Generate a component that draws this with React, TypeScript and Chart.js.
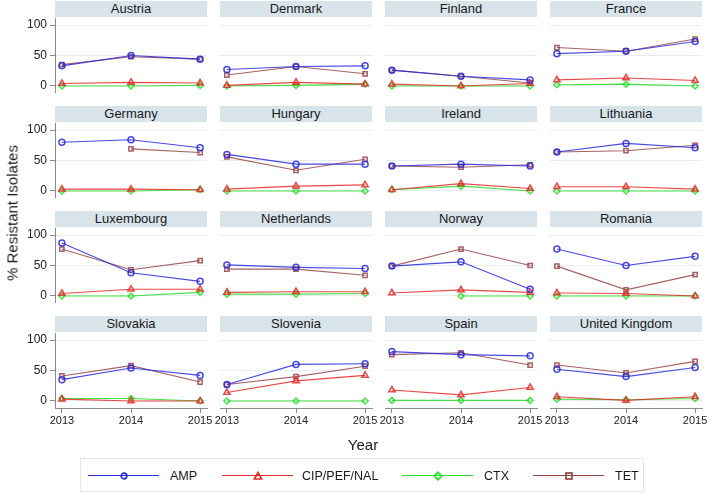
import React, { useEffect, useRef } from "react";
import { Chart, registerables } from "chart.js";
Chart.register(...registerables);

const years = [2013, 2014, 2015];
const countries = [
  "Austria", "Denmark", "Finland", "France",
  "Germany", "Hungary", "Ireland", "Lithuania",
  "Luxembourg", "Netherlands", "Norway", "Romania",
  "Slovakia", "Slovenia", "Spain", "United Kingdom",
];
const seriesNames = ["AMP", "CIP/PEF/NAL", "CTX", "TET"];
const AMP: (number | null)[][] = [
  [33, 50, 44], [27, 32, 33], [26, 16, 10], [53, 57, 73],
  [80, 84, 71], [60, 44, 44], [41, 44, 41], [64, 78, 71],
  [87, 38, 24], [51, 47, 45], [49, 56, 11], [77, 50, 65],
  [35, 54, 42], [27, 60, 61], [81, 76, 74], [52, 40, 55],
];
const CIP: (number | null)[][] = [
  [4, 6, 5], [1, 6, 3], [3, 0, 4], [10, 13, 9],
  [3, 3, 2], [3, 8, 10], [2, 12, 4], [7, 7, 3],
  [4, 11, 11], [6, 7, 7], [5, 10, 6], [5, 4, 0],
  [3, 0, 0], [14, 33, 42], [18, 10, 22], [7, 1, 7],
];
const CTX: (number | null)[][] = [
  [0, 0, 1], [0, 1, 3], [0, 0, 0], [2, 3, 0],
  [0, 0, 2], [0, 0, 0], [2, 8, 0], [0, 0, 0],
  [0, 0, 6], [3, 3, 4], [null, 0, 0], [0, 0, 0],
  [4, 4, 0], [0, 0, 0], [1, 1, 1], [3, 2, 4],
];
const TET: (number | null)[][] = [
  [35, 48, 44], [18, 32, 20], [26, 16, 5], [63, 57, 77],
  [null, 69, 63], [56, 34, 52], [41, 39, 43], [64, 66, 75],
  [77, 43, 58], [44, 44, 34], [49, 77, 50], [49, 10, 35],
  [41, 58, 31], [27, 40, 57], [76, 79, 59], [59, 46, 65],
];
const yTicks = [0, 50, 100];

const seriesData = [AMP, CIP, CTX, TET];
const colors = ["rgba(40,40,225,0.85)", "rgba(230,40,40,0.85)", "rgba(40,220,40,0.85)", "rgba(150,70,70,0.85)"];
const legendColors = ["#2a2ae0", "#e62a2a", "#2ade2a", "#964646"];
const pointStyles = ["circle", "triangle", "rectRot", "rect"];

const FONT = "'Liberation Sans', Arial, Helvetica, sans-serif";
const PLOT_L0 = 55;
const COL_PITCH = 165;
const PLOT_W = 152;
const ROW_PITCH = 105;
const HEADER_T0 = 1;
const HEADER_H = 16;
const PLOT_T0 = 18;
const PLOT_H = 75;
const PADX = 16;
const XAXIS_H = 26;

function panelGeom(i: number) {
  const r = Math.floor(i / 4);
  const c = i % 4;
  const plotL = PLOT_L0 + c * COL_PITCH;
  const plotT = PLOT_T0 + r * ROW_PITCH;
  const isLeft = c === 0;
  const isBottom = r === 3;
  const left = isLeft ? 0 : plotL - PADX;
  const width = (isLeft ? plotL : PADX) + PLOT_W + PADX;
  const height = PLOT_H + (isBottom ? XAXIS_H : 0);
  return { r, c, plotL, plotT, isLeft, isBottom, left, top: plotT, width, height };
}

function Marker({ style, color }: { style: string; color: string }) {
  let shape: React.ReactNode = null;
  if (style === "circle") shape = <circle cx={5} cy={5} r={2.8} fill="none" stroke={color} strokeWidth={1.7} />;
  if (style === "triangle") shape = <polygon points="5,1.6 8.6,8 1.4,8" fill="none" stroke={color} strokeWidth={1.7} />;
  if (style === "rectRot") shape = <polygon points="5,1.3 8.7,5 5,8.7 1.3,5" fill="none" stroke={color} strokeWidth={1.7} />;
  if (style === "rect") shape = <rect x={2} y={2} width={6} height={6} fill="none" stroke={color} strokeWidth={1.7} />;
  return (
    <svg width={10} height={10} style={{ position: "absolute", left: -5, top: -5 }}>
      {shape}
    </svg>
  );
}

export default function App() {
  const refs = useRef<(HTMLCanvasElement | null)[]>([]);

  useEffect(() => {
    const charts: Chart[] = [];
    countries.forEach((_, i) => {
      const canvas = refs.current[i];
      if (!canvas) return;
      const g = panelGeom(i);
      const datasets = seriesData.map((arr, k) => ({
        label: seriesNames[k],
        data: years.map((yr, j) => ({ x: yr, y: arr[i][j] })),
        borderColor: colors[k],
        backgroundColor: "transparent",
        borderWidth: 1.1,
        pointStyle: pointStyles[k] as any,
        pointRadius: k === 1 ? 3.6 : 3,
        pointBorderWidth: 1.5,
        pointBorderColor: colors[k],
        pointBackgroundColor: "rgba(255,255,255,0)",
        spanGaps: false,
        tension: 0,
        clip: false as any,
      }));
      const chart = new Chart(canvas, {
        type: "line",
        data: { datasets: datasets as any },
        options: {
          animation: false,
          responsive: false,
          maintainAspectRatio: false,
          devicePixelRatio: 1,
          layout: {
            autoPadding: false,
            padding: { left: g.isLeft ? 0 : PADX, right: PADX, top: 0, bottom: 0 },
          },
          plugins: { legend: { display: false }, tooltip: { enabled: false } },
          scales: {
            x: {
              type: "linear",
              min: 2012.9,
              max: 2015.1,
              display: g.isBottom,
              afterBuildTicks: (s: any) => {
                s.ticks = years.map((v) => ({ value: v }));
              },
              afterFit: (s: any) => {
                s.height = g.isBottom ? XAXIS_H : 0;
              },
              grid: { drawOnChartArea: false, drawTicks: true, tickLength: 5, color: "#8a8a8a", tickColor: "#8a8a8a" },
              border: { display: true, color: "#8a8a8a", width: 1 },
              ticks: {
                callback: (v: any) => String(v),
                font: { family: FONT, size: 11 },
                color: "#222",
                padding: 1,
                maxRotation: 0,
                autoSkip: false,
              },
            },
            y: {
              type: "linear",
              min: -11.5,
              max: 111.5,
              display: true,
              afterBuildTicks: (s: any) => {
                s.ticks = yTicks.map((v) => ({ value: v }));
              },
              afterFit: (s: any) => {
                s.width = g.isLeft ? PLOT_L0 : 0;
                s.paddingTop = 0;
                s.paddingBottom = 0;
              },
              grid: {
                color: "#e6edf1",
                lineWidth: 1,
                drawTicks: g.isLeft,
                tickLength: 5,
                tickColor: "#8a8a8a",
              },
              border: { display: g.isLeft, color: "#8a8a8a", width: 1 },
              ticks: {
                display: g.isLeft,
                font: { family: FONT, size: 12 },
                color: "#222",
                padding: 3,
              },
            },
          },
        },
      });
      charts.push(chart);
    });
    return () => charts.forEach((c) => c.destroy());
  }, []);

  const legendItems = [
    { lineL: 88, textL: 170 },
    { lineL: 222, textL: 302 },
    { lineL: 402, textL: 484 },
    { lineL: 533, textL: 615 },
  ];

  return (
    <div
      style={{
        position: "fixed",
        left: 0,
        top: 0,
        width: 709,
        height: 494,
        background: "#fff",
        fontFamily: FONT,
        overflow: "hidden",
      }}
    >
      {countries.map((name, i) => {
        const g = panelGeom(i);
        return (
          <div
            key={"h" + i}
            style={{
              position: "absolute",
              left: g.plotL,
              top: HEADER_T0 + g.r * ROW_PITCH,
              width: PLOT_W,
              height: HEADER_H,
              background: "#d8e3ea",
              color: "#1a1a1a",
              fontSize: 13,
              lineHeight: HEADER_H + "px",
              textAlign: "center",
            }}
          >
            {name}
          </div>
        );
      })}
      {countries.map((_, i) => {
        const g = panelGeom(i);
        return (
          <canvas
            key={"c" + i}
            ref={(el) => {
              refs.current[i] = el;
            }}
            width={g.width}
            height={g.height}
            style={{ position: "absolute", left: g.left, top: g.top, width: g.width, height: g.height }}
          />
        );
      })}
      <div
        style={{
          position: "absolute",
          left: 12,
          top: 213,
          transform: "translate(-50%, -50%) rotate(-90deg)",
          whiteSpace: "nowrap",
          fontSize: 15,
          color: "#1a1a1a",
        }}
      >
        % Resistant Isolates
      </div>
      <div
        style={{
          position: "absolute",
          left: 363,
          top: 444,
          transform: "translate(-50%, -50%)",
          fontSize: 15,
          color: "#1a1a1a",
        }}
      >
        Year
      </div>
      <div
        style={{
          position: "absolute",
          left: 80,
          top: 458,
          width: 564,
          height: 34,
          border: "1px solid #e2e8ec",
          boxSizing: "border-box",
        }}
      />
      {legendItems.map((it, k) => (
        <React.Fragment key={"l" + k}>
          <div
            style={{
              position: "absolute",
              left: it.lineL,
              top: 475,
              width: 71,
              height: 0,
              borderTop: "1.3px solid " + legendColors[k],
            }}
          />
          <div style={{ position: "absolute", left: it.lineL + 35.5, top: 475.7, width: 0, height: 0 }}>
            <Marker style={pointStyles[k]} color={legendColors[k]} />
          </div>
          <div
            style={{
              position: "absolute",
              left: it.textL,
              top: 476,
              transform: "translateY(-50%)",
              fontSize: 12.5,
              color: "#1a1a1a",
              whiteSpace: "nowrap",
            }}
          >
            {seriesNames[k]}
          </div>
        </React.Fragment>
      ))}
    </div>
  );
}
